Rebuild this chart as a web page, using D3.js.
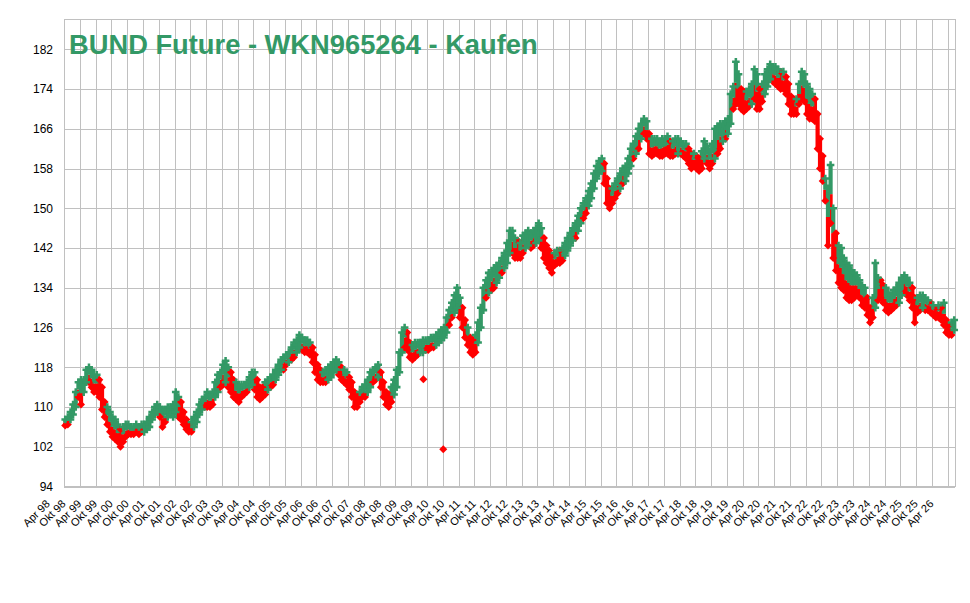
<!DOCTYPE html>
<html><head><meta charset="utf-8">
<script src="https://cdn.jsdelivr.net/npm/d3@7"></script>
<style>body{margin:0;background:#fff}svg{display:block}</style>
</head><body>
<svg id="c" width="970" height="603"></svg>
<script>
// ---------------- DATA ----------------
const title = "BUND Future - WKN965264 - Kaufen";
const firstMonth = [1998, 4];           // first monthly bucket: April 1998
const tickLabels = ["Apr 98","Okt 98","Apr 99","Okt 99","Apr 00","Okt 00","Apr 01","Okt 01","Apr 02","Okt 02",
  "Apr 03","Okt 03","Apr 04","Okt 04","Apr 05","Okt 05","Apr 06","Okt 06","Apr 07","Okt 07","Apr 08","Okt 08",
  "Apr 09","Okt 09","Apr 10","Okt 10","Apr 11","Okt 11","Apr 12","Okt 12","Apr 13","Okt 13","Apr 14","Okt 14",
  "Apr 15","Okt 15","Apr 16","Okt 16","Apr 17","Okt 17","Apr 18","Okt 18","Apr 19","Okt 19","Apr 20","Okt 20",
  "Apr 21","Okt 21","Apr 22","Okt 22","Apr 23","Okt 23","Apr 24","Okt 24","Apr 25","Okt 25","Apr 26"];
const yTicks = [94,102,110,118,126,134,142,150,158,166,174,182];

// monthly low / high of the daily price cloud (one row = half a year)
const loVals = [
 106.3,106.5,107.5,108.5,110,112,   110.5,113,115,115,114,113,
 113,112,109.5,108,106.5,105,       104,103.5,103,102,103,104,
 104.5,104.5,104.5,105,104.5,105,   105,105.5,106,107.5,108.5,109,
 108,106,107,108,108.5,108,         109,108,107.5,106.5,105.5,105,
 105,106,107,108.5,109.5,110,       110,110,110.5,112,113,114,
 114.5,115,114,113,112,111.5,       111,112,112.5,113,114,114.5,
 113.5,112,111.5,112,112.5,113.5,   114,114.5,115.5,116.5,117.5,117.5,
 118.5,119,119.5,120,121,122,       121.5,121,121,120.5,119,117,
 115.5,115,115,115,115.5,116,       117,117.5,116.5,115.5,115,114.5,
 113.5,112,110,110,111,112,         112,113,114,115,115.5,116,
 114,112,110.5,110,111,112.5,       114,117,121,122,121.5,120,
 119.5,120,120.5,121,121,121.5,     121.5,122,122,122.5,123,123.5,
 124,125,126.5,128,129,130,         128,126,124,122.5,121,120.5,
 121,123,126,129.5,132,133,         133.5,134,135,136,137,138,
 139,141,141,140,140,140,           141,142,142.5,142,142.5,143,
 143.5,142,140,139,138,137,         138.5,139,139,139.5,140.5,141.5,
 142.5,143.5,144,145.5,147,148,     149,150.5,152,154,156,157,
 157.5,155,151,150,151,152,         153,154,155,155.5,157,158.5,
 160,161,162,164,165,164,           161,160.5,161,161,160.5,160.5,
 161,161,160.5,160.5,161,161,       161,160.5,160,159,158,158.5,
 158,157.5,158,160,159,158,         159,160,161,162,163.5,164,
 165,167,170,171,171,170,           169.5,170,170.5,171,172,170,
 170,171.5,173,174.5,176,175.5,     175,174.5,174,174,173,171,
 169,169,169,171,172,171.5,         169,168,168,167.5,162,158,
 155.5,151.5,142.5,147,140,137.5,   135,134,133.5,132,131.5,131.5,
 132,132.5,132,130.5,130,128.5,     127,128,130,131.5,132,131,
 129.5,129,129.5,130,130.5,131,     132.5,133,132.5,131.5,130,127,
 129,129.5,130,129.5,129.5,129,     128.5,128,128,127.5,126.5,125,
 124.5,124.5,125.5
];
const hiVals = [
 107.5,108,109,110.5,113,115,       115.5,115.5,117.5,118,117.5,116.5,
 116.5,115.5,114,111,110,109,       108,107.5,106.5,105.5,106,106.5,
 106.5,106,106,106.5,106,106.5,     106.5,107,108,109,110,110.5,
 110,109.5,109.5,110,110,110.5,     113,112,111,109,107.5,106.5,
 107,108,109,110.5,111.5,112,       113,112.5,113,115,116.5,117,
 118.5,119.3,118,117,115.5,115,     114.5,114.5,114.5,115,116,117,
 117,115.5,114,114,115,115.5,       116,116.5,117.5,118.5,119.5,120,
 120.5,121,122,123,123.5,124.5,     124,123.5,123.5,123,122,120.5,
 118.5,117.5,117,117.5,118,118.5,   119,119.5,119,118,117.5,117,
 116,115,113,112.5,113,114,         114.5,115.5,117,117.5,118,118.5,
 117,115,113,112.5,114,115.5,       117.5,121,125,126,125,123,
 122.5,123,123,123,123.5,123.5,     123.5,124,124,124.5,125,125.5,
 126,128,129.5,131,132.5,134,       132,130,127.5,126,124,123.5,
 124.5,127,130,134,135.5,137,       137,138,138.5,139,140,141,
 143,145.5,145.5,144,143.5,143,     144.5,145,145.5,145,145.5,146,
 147,146,144,142.5,141.5,140.5,     141,141.5,141.5,142,143,144,
 145,146,147,148.5,150,151,         152,153.5,155,157,158.5,159.5,
 160,159,156,154,154,155,           156,157,158,158.5,160,162,
 163,164.5,166,167,168,167.5,       165,164,164,164,163.5,164,
 164,164.5,163.5,163.5,164,164,     163.5,163,163,162,161,161,
 160.5,160,161.5,163.5,162.5,161.5, 163,166,166.5,167,167,167.5,
 168,173,174.5,179.5,177,174,       173.5,173.5,174,175,178,177,
 174,175,177,178,179,178.5,         178.5,178,177.5,177.5,176.5,175,
 172.5,172,172,175,177.5,177,       175,174,173,172,169,164,
 160.5,156,154,158.7,150,145,       142.5,142,140,139,138.5,137.5,
 137,136.5,135.5,134.5,134,132,     130,132,139,136,135.5,134.5,
 134,133,132.5,133.5,134,135,       136,136.5,136,135,134,132,
 132,132.5,132.5,132,131.5,131,     130.5,130,130.5,130,131,127.5,
 126.5,127,127.5
];
// signal per month: g = Kaufen (green), r = red, m = green upper part / red lower part
const signals = [
 "mmgggm","mggmmm","mrrrmm","mmmrmm","mmmmmm","gggggg","mmmggg","gmrrrr",
 "mggggm","mmmggm","mgmrrm","mmmmgg","mrrrmg","mmgggm","mgmmgg","mmmmrr",
 "rrmmgg","ggmrmm","rrrrmm","mggmmg","rrrrmg","gggmrr","mmmggm","mmmggg",
 "ggmmgg","mrrmrr","mgggmg","mmggmg","ggmmrm","mggmmg","gmrrrr","mmrmgg",
 "ggmggm","mggggg","grrrmm","mgmggg","mgmgmm","rmmmmm","mmrmmg","mmmrrm",
 "rrmgmm","mgmmgm","ggmmmr","rmmgmm","rmgggm","mmrmrr","rrmmmm","mmmrrr",
 "rmmmmr","mmmmmm","mmmmmr","rmgmrr","mmmmmg","gmmmrr","mmgmmr","mrmrmr","rmg"
].join("");
// isolated red points
const outlierDates = ["2009-08-20","2010-04-07"];
const outlierVals = [115.6, 101.5];

// ---------------- CHART ----------------
const W = 970, H = 603;
const pLeft = 64, pRight = 955, pTop = 19.5, pBottom = 486.5;
const green = "#339966", red = "#ff0000", grid = "#c0c0c0";
const font = "'Liberation Sans', Arial, sans-serif";

const svg = d3.select("#c");
svg.append("rect").attr("width", W).attr("height", H).attr("fill", "#fff");

const parseLabel = l => new Date((+l.slice(4) > 50 ? 1900 : 2000) + +l.slice(4), l.startsWith("Apr") ? 3 : 9, 1);
const tickDates = tickLabels.map(parseLabel);

const x = d3.scaleTime().domain([new Date(1998, 3, 1), new Date(2026, 5, 24)]).range([pLeft, pRight]);
const y = d3.scaleLinear().domain([94, 188]).range([pBottom, pTop]);

// y axis + horizontal grid
const yAxis = svg.append("g").attr("transform", `translate(${pLeft},0)`)
  .call(d3.axisLeft(y).tickValues(yTicks).tickSize(-(pRight - pLeft)).tickPadding(11).tickFormat(d3.format("d")));
yAxis.select(".domain").remove();
yAxis.selectAll("line").attr("stroke", grid).attr("shape-rendering", "crispEdges");
yAxis.selectAll("text").attr("font-family", font).attr("font-size", 12).attr("fill", "#000");

// x axis + vertical grid
const labelOf = new Map(tickDates.map((d, i) => [+d, tickLabels[i]]));
const xAxis = svg.append("g").attr("transform", `translate(0,${pBottom})`)
  .call(d3.axisBottom(x).tickValues(tickDates).tickSize(-(pBottom - pTop)).tickFormat(d => labelOf.get(+d)));
xAxis.select(".domain").remove();
xAxis.selectAll("line").attr("stroke", grid).attr("shape-rendering", "crispEdges");
xAxis.selectAll("text")
  .attr("font-family", font).attr("font-size", 11).attr("fill", "#000")
  .attr("text-anchor", "end").attr("dy", 0).attr("y", 0)
  .attr("transform", "translate(-14,18) rotate(-45)");

// plot border
svg.append("rect").attr("x", pLeft + 0.5).attr("y", pTop).attr("width", pRight - pLeft).attr("height", pBottom - pTop)
  .attr("fill", "none").attr("stroke", grid).attr("shape-rendering", "crispEdges");

// data
const data = loVals.map((lo, i) => ({
  date: new Date(firstMonth[0], firstMonth[1] - 1 + i, 15),
  lo, hi: hiVals[i], s: signals[i]
}));

const plot = svg.append("g");
outlierDates.forEach((ds, i) => {
  const d = new Date(ds);
  const near = data.reduce((a, b) => Math.abs(b.date - d) < Math.abs(a.date - d) ? b : a);
  plot.append("line").attr("x1", x(d)).attr("x2", x(d))
    .attr("y1", y(outlierVals[i])).attr("y2", y(near.lo)).attr("stroke", "#a0a0a0").attr("stroke-width", 1);
});

const cw = 4.2;
const segs = [];
data.forEach(d => {
  if (d.s === "m") {
    const mid = (d.lo + d.hi) / 2;
    segs.push({d, a: d.lo, b: mid, c: red});
    segs.push({d, a: mid, b: d.hi, c: green});
  } else {
    segs.push({d, a: d.lo, b: d.hi, c: d.s === "g" ? green : red});
  }
});
segs.sort((p, q) => (p.c === green) - (q.c === green));
plot.selectAll("rect.col").data(segs).join("rect").attr("class", "col")
  .attr("x", s => x(s.d.date) - cw / 2).attr("width", cw)
  .attr("y", s => y(s.b)).attr("height", s => Math.max(0.5, y(s.a) - y(s.b)))
  .attr("fill", s => s.c);

const pts = [];
data.forEach(d => {
  pts.push({date: d.date, v: d.hi, c: d.s === "r" ? red : green});
  pts.push({date: d.date, v: d.lo, c: d.s === "g" ? green : red});
});
outlierDates.forEach((ds, i) => pts.push({date: new Date(ds), v: outlierVals[i], c: red}));
pts.sort((p, q) => (p.c === green) - (q.c === green));

const diamond = "M0,-4L4,0L0,4L-4,0Z";
const cross = d3.symbol(d3.symbolCross, 32)();
plot.selectAll("path.pt").data(pts).join("path").attr("class", "pt")
  .attr("transform", p => `translate(${x(p.date)},${y(p.v)})`)
  .attr("d", p => p.c === red ? diamond : cross)
  .attr("fill", p => p.c);

// title
svg.append("text").attr("x", 69).attr("y", 53.5)
  .attr("font-family", font).attr("font-weight", "bold").attr("font-size", 27.3)
  .attr("fill", green).text(title);
</script>
</body></html>
